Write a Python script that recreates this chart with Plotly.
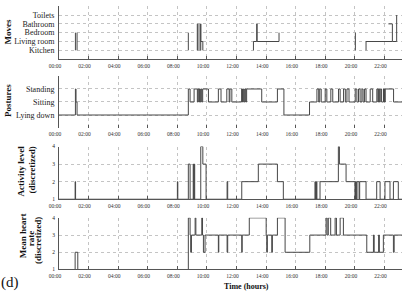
import plotly.graph_objects as go

W, H = 402, 296
ML = 59
XMAX = 23.18

# ---------------- data ----------------
hour_ticks = [0, 2, 4, 6, 8, 10, 12, 14, 16, 18, 20, 22]
hour_labels = ["00:00", "02:00", "04:00", "06:00", "08:00", "10:00",
               "12:00", "14:00", "16:00", "18:00", "20:00", "22:00"]

move_labels = ["Kitchen", "Living room", "Bedroom", "Bathroom", "Toilets"]
posture_labels = ["Lying down", "Sitting", "Standing"]
level_labels = ["1", "2", "3", "4"]

# Moves (1=Kitchen .. 5=Toilets), None = no detection
moves_t = [1.11, 1.11, None, 1.22, 1.22, None, 8.74, 8.74, None,
           9.35, 9.35, None, 9.56, 9.58, 9.58, 9.72, None,
           13.14, 13.14, 13.36, 13.39, 14.87, None,
           20.03, 20.03, None,
           20.75, 20.75, 22.53, 22.82, None,
           22.26, 22.53]
moves_v = [3, 1, None, 3, 1, None, 3, 1, None,
           1, 4, None, 1, 4, 2, 1, None,
           1, 2, 4, 2, 3, None,
           3, 1, None,
           1, 2, 2, 5, None,
           4, 2]

# Moves: rapid Kitchen/Bathroom alternation around 09:30 (drawn lighter)
burst_t = [9.35, 9.37, 9.39, 9.41, 9.43, 9.45, 9.47, 9.49, 9.51, 9.53, 9.55, 9.58]
burst_v = [4, 1, 4, 1, 4, 1, 4, 1, 4, 1, 4, 1]

# Postures (1=Lying down, 2=Sitting, 3=Standing)
post_t = [0, 1.11, 1.15, 1.22, 8.74, 8.86, 9.13, 9.35, 9.40, 9.45, 9.50, 9.55,
          9.60, 9.65, 9.71, 10.10, 10.77, 10.95, 11.34, 11.50, 11.55, 11.68,
          12.34, 12.40, 12.46, 12.52, 12.57, 12.62, 12.68, 13.70, 14.76, 15.20,
          16.93, 17.43, 17.55, 17.62, 17.72, 17.99, 18.10, 18.37, 18.50, 18.89,
          19.00, 19.23, 19.35, 19.46, 19.60, 20.02, 20.13, 20.24, 20.35, 20.47,
          20.55, 20.65, 20.75, 21.03, 21.20, 21.48, 21.55, 21.60, 21.65, 21.71,
          21.80, 21.93, 22.00, 22.05, 22.61, 23.18]
post_v = [1, 3, 2, 1, 3, 2, 3, 2, 3, 2, 3, 2,
          3, 2, 3, 2, 3, 2, 3, 2, 3, 2,
          3, 2, 3, 2, 3, 2, 3, 2, 3, 1,
          2, 3, 2, 3, 2, 3, 2, 3, 2, 3,
          2, 3, 2, 3, 2, 3, 2, 3, 2, 3,
          2, 3, 2, 3, 2, 3, 2, 3, 2, 3,
          2, 3, 2, 3, 2, 2]

# Activity level (discretized, 1..4)
act_t = [0, 1.09, 1.12, 8.00, 8.03, 8.74, 8.86, 9.07, 9.10, 9.14, 9.17, 9.58,
         9.72, 9.94, 11.36, 11.40, 12.35, 13.47, 14.76, 15.16, 17.30, 17.33,
         17.40, 17.43, 17.64, 18.88, 18.95, 19.40, 20.00, 20.04, 20.10, 20.14,
         20.28, 20.32, 20.75, 21.47, 21.70, 22.03, 22.37, 22.60, 22.93, 23.18]
act_v = [1, 2, 1, 2, 1, 3, 1, 3, 1, 3, 1, 4,
         3, 1, 2, 1, 2, 3, 2, 1, 2, 1,
         2, 1, 2, 4, 3, 2, 1, 2, 1, 2,
         1, 2, 1, 2, 1, 2, 1, 2, 1, 1]

# Mean heart rate (discretized, 1..4)
hr_t = [0, 1.09, 1.27, 8.74, 8.86, 8.90, 8.95, 9.20, 9.25, 9.65, 9.70, 9.76,
        9.87, 10.77, 10.80, 11.36, 11.40, 12.35, 12.38, 12.86, 14.00, 14.04,
        14.08, 14.38, 14.42, 14.76, 15.28, 16.95, 18.05, 18.12, 18.20, 18.36,
        18.66, 18.75, 19.00, 19.22, 20.80, 21.25, 21.30, 21.60, 21.65, 21.92,
        22.60, 22.65, 23.18]
hr_v = [1, 2, 1, 4, 3, 2, 3, 4, 3, 4, 3, 2,
        3, 2, 3, 2, 3, 2, 3, 4, 3, 2,
        3, 2, 3, 4, 2, 3, 4, 3, 4, 3,
        4, 3, 4, 3, 2, 3, 2, 3, 2, 3,
        2, 3, 3]

# ---------------- figure ----------------
FONT = "Liberation Serif"
LINE = "#474747"
LIGHT = "#a8a8a8"
GRID = "#c4c4c4"
AX = "#555555"

def ydom(top_px, bot_px):
    return [1 - bot_px / H, 1 - top_px / H]

panels = [
    dict(t=moves_t, v=moves_v, dom=ydom(3.3, 57.3), rng=[0, 6],
         tv=[0, 1, 2, 3, 4, 5, 6], tt=[""] + move_labels + [""], fs=8, bottom=True),
    dict(t=post_t, v=post_v, dom=ydom(74.5, 127.6), rng=[0, 4],
         tv=[0, 1, 2, 3, 4], tt=[""] + posture_labels + [""], fs=8, bottom=False),
    dict(t=act_t, v=act_v, dom=ydom(146.5, 200.3), rng=[1, 4],
         tv=[1, 2, 3, 4], tt=level_labels, fs=5.5, bottom=True),
    dict(t=hr_t, v=hr_v, dom=ydom(219.3, 272.0), rng=[1, 4],
         tv=[1, 2, 3, 4], tt=level_labels, fs=5.5, bottom=True),
]

fig = go.Figure()
# lighter burst in Moves panel (drawn first, underneath)
fig.add_trace(go.Scatter(x=burst_t, y=burst_v, mode="lines",
                         line=dict(color=LIGHT, width=1, shape="vh"),
                         xaxis="x", yaxis="y", showlegend=False, hoverinfo="skip"))
layout = {}
for i, p in enumerate(panels, start=1):
    xa = "x" if i == 1 else f"x{i}"
    ya = "y" if i == 1 else f"y{i}"
    fig.add_trace(go.Scatter(x=p["t"], y=p["v"], mode="lines",
                             line=dict(color=LINE, width=1, shape="hv"),
                             connectgaps=False, xaxis=xa, yaxis=ya,
                             showlegend=False, hoverinfo="skip"))
    xkey = "xaxis" if i == 1 else f"xaxis{i}"
    ykey = "yaxis" if i == 1 else f"yaxis{i}"
    layout[xkey] = dict(
        domain=[0, 1], anchor=ya, range=[0, XMAX],
        tickvals=hour_ticks, ticktext=hour_labels,
        tickfont=dict(family=FONT, size=5.5, color="#333"),
        ticks="inside", ticklen=3, tickcolor=AX, tickwidth=1,
        ticklabelshift=-4, ticklabelstandoff=1,
        showgrid=True, gridcolor=GRID, griddash="dot", gridwidth=1,
        showline=p["bottom"], linecolor=AX, linewidth=1,
        zeroline=False, fixedrange=True,
    )
    layout[ykey] = dict(
        domain=p["dom"], anchor=xa, range=p["rng"],
        tickvals=p["tv"], ticktext=p["tt"],
        tickfont=dict(family=FONT, size=p["fs"], color="#222"),
        ticks="", ticklabelstandoff=2,
        showgrid=True, gridcolor=GRID, griddash="dot", gridwidth=1,
        showline=True, linecolor=AX, linewidth=1,
        zeroline=False, fixedrange=True,
    )

def px_x(px):
    return (px - ML) / (W - ML)

def px_y(py):
    return 1 - py / H

titles = [
    ("Moves", 8, 30),
    ("Postures", 8, 100),
    ("Activity level", 21, 172),
    ("(discretized)", 32, 170),
    ("Mean heart", 23, 238),
    ("rate", 31, 240),
    ("(discretized)", 38, 243),
]
ann = []
for txt, x, y in titles:
    ann.append(dict(text=f"<b>{txt}</b>", x=px_x(x), y=px_y(y), xref="paper",
                    yref="paper", xanchor="center", yanchor="middle",
                    textangle=-90, showarrow=False,
                    font=dict(family=FONT, size=9, color="#111")))
ann.append(dict(text="<b>Time (hours)</b>", x=px_x(247), y=px_y(289),
                xref="paper", yref="paper", xanchor="center", yanchor="middle",
                showarrow=False, font=dict(family=FONT, size=8, color="#111")))
ann.append(dict(text="(d)", x=px_x(10), y=px_y(285), xref="paper", yref="paper",
                xanchor="center", yanchor="middle", showarrow=False,
                font=dict(family=FONT, size=15, color="#111")))

fig.update_layout(
    width=W, height=H,
    margin=dict(l=ML, r=0, t=0, b=0, pad=0),
    paper_bgcolor="white", plot_bgcolor="white",
    annotations=ann,
    **layout,
)

fig.write_html("out.html", config={"displayModeBar": False},
               post_script="document.body.style.margin='0';document.body.style.overflow='hidden';")
